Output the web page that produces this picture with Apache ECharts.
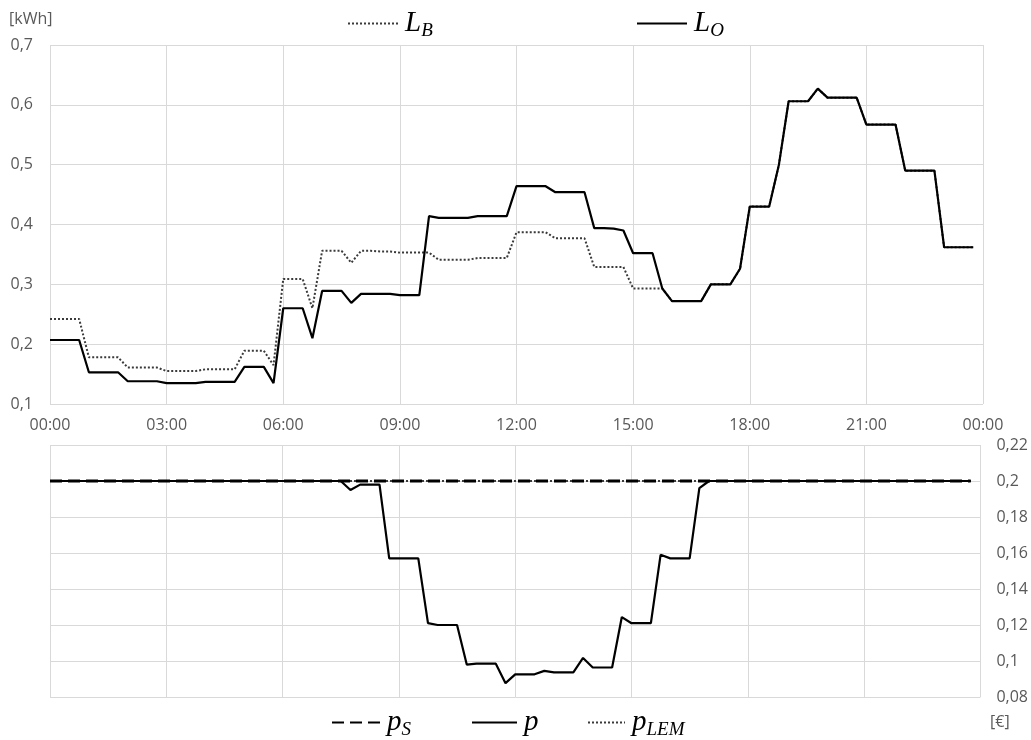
<!DOCTYPE html>
<html>
<head>
<meta charset="utf-8">
<script src="https://cdn.jsdelivr.net/npm/echarts@6/dist/echarts.min.js"></script>
<style>
html,body{margin:0;padding:0;background:#fff;}
#chart{width:1031px;height:740px;}
</style>
</head>
<body>
<div id="chart"></div>
<script>
// Time categories (15-minute steps, plus the closing 24:00 tick shown as 00:00)
const categories = [
"00:00","00:15","00:30","00:45","01:00","01:15","01:30","01:45",
"02:00","02:15","02:30","02:45","03:00","03:15","03:30","03:45",
"04:00","04:15","04:30","04:45","05:00","05:15","05:30","05:45",
"06:00","06:15","06:30","06:45","07:00","07:15","07:30","07:45",
"08:00","08:15","08:30","08:45","09:00","09:15","09:30","09:45",
"10:00","10:15","10:30","10:45","11:00","11:15","11:30","11:45",
"12:00","12:15","12:30","12:45","13:00","13:15","13:30","13:45",
"14:00","14:15","14:30","14:45","15:00","15:15","15:30","15:45",
"16:00","16:15","16:30","16:45","17:00","17:15","17:30","17:45",
"18:00","18:15","18:30","18:45","19:00","19:15","19:30","19:45",
"20:00","20:15","20:30","20:45","21:00","21:15","21:30","21:45",
"22:00","22:15","22:30","22:45","23:00","23:15","23:30","23:45",
"00:00"
];

// Load [kWh]
const L_B = [
0.242,0.242,0.242,0.242, 0.178,0.178,0.178,0.178,
0.161,0.161,0.161,0.161, 0.155,0.155,0.155,0.155,
0.158,0.158,0.158,0.158, 0.189,0.189,0.189,0.165,
0.309,0.309,0.309,0.260, 0.356,0.356,0.356,0.336,
0.356,0.356,0.355,0.355, 0.353,0.353,0.353,0.353,
0.341,0.341,0.341,0.341, 0.344,0.344,0.344,0.344,
0.387,0.387,0.387,0.387, 0.377,0.377,0.377,0.377,
0.329,0.329,0.329,0.329, 0.293,0.293,0.293,0.293,
0.272,0.272,0.272,0.272, 0.300,0.300,0.300,0.326,
0.430,0.430,0.430,0.500, 0.606,0.606,0.606,0.627,
0.612,0.612,0.612,0.612, 0.567,0.567,0.567,0.567,
0.490,0.490,0.490,0.490, 0.362,0.362,0.362,0.362
];
const L_O = [
0.207,0.207,0.207,0.207, 0.153,0.153,0.153,0.153,
0.138,0.138,0.138,0.138, 0.135,0.135,0.135,0.135,
0.137,0.137,0.137,0.137, 0.162,0.162,0.162,0.135,
0.260,0.260,0.260,0.210, 0.289,0.289,0.289,0.269,
0.284,0.284,0.284,0.284, 0.282,0.282,0.282,0.414,
0.411,0.411,0.411,0.411, 0.414,0.414,0.414,0.414,
0.464,0.464,0.464,0.464, 0.454,0.454,0.454,0.454,
0.394,0.394,0.393,0.390, 0.352,0.352,0.352,0.293,
0.272,0.272,0.272,0.272, 0.300,0.300,0.300,0.326,
0.430,0.430,0.430,0.500, 0.606,0.606,0.606,0.627,
0.612,0.612,0.612,0.612, 0.567,0.567,0.567,0.567,
0.490,0.490,0.490,0.490, 0.362,0.362,0.362,0.362
];

// Prices [€]
const p_S = [
0.2,0.2,0.2,0.2, 0.2,0.2,0.2,0.2, 0.2,0.2,0.2,0.2, 0.2,0.2,0.2,0.2,
0.2,0.2,0.2,0.2, 0.2,0.2,0.2,0.2, 0.2,0.2,0.2,0.2, 0.2,0.2,0.2,0.2,
0.2,0.2,0.2,0.2, 0.2,0.2,0.2,0.2, 0.2,0.2,0.2,0.2, 0.2,0.2,0.2,0.2,
0.2,0.2,0.2,0.2, 0.2,0.2,0.2,0.2, 0.2,0.2,0.2,0.2, 0.2,0.2,0.2,0.2,
0.2,0.2,0.2,0.2, 0.2,0.2,0.2,0.2, 0.2,0.2,0.2,0.2, 0.2,0.2,0.2,0.2,
0.2,0.2,0.2,0.2, 0.2,0.2,0.2,0.2, 0.2,0.2,0.2,0.2, 0.2,0.2,0.2,0.2
];
const p = [
0.2,0.2,0.2,0.2, 0.2,0.2,0.2,0.2, 0.2,0.2,0.2,0.2, 0.2,0.2,0.2,0.2,
0.2,0.2,0.2,0.2, 0.2,0.2,0.2,0.2, 0.2,0.2,0.2,0.2, 0.2,0.2,0.2,0.195,
0.198,0.198,0.198,0.157, 0.157,0.157,0.157,0.121,
0.120,0.120,0.120,0.098, 0.0985,0.0985,0.0985,0.0877,
0.0926,0.0926,0.0926,0.0945, 0.0937,0.0937,0.0937,0.1017,
0.0964,0.0964,0.0964,0.1244, 0.121,0.121,0.121,0.159,
0.157,0.157,0.157,0.196, 0.2,0.2,0.2,0.2,
0.2,0.2,0.2,0.2, 0.2,0.2,0.2,0.2, 0.2,0.2,0.2,0.2,
0.2,0.2,0.2,0.2, 0.2,0.2,0.2,0.2, 0.2,0.2,0.2,0.2
];
const p_LEM = [
0.2,0.2,0.2,0.2, 0.2,0.2,0.2,0.2, 0.2,0.2,0.2,0.2, 0.2,0.2,0.2,0.2,
0.2,0.2,0.2,0.2, 0.2,0.2,0.2,0.2, 0.2,0.2,0.2,0.2, 0.2,0.2,0.2,0.2,
0.2,0.2,0.2,0.2, 0.2,0.2,0.2,0.2, 0.2,0.2,0.2,0.2, 0.2,0.2,0.2,0.2,
0.2,0.2,0.2,0.2, 0.2,0.2,0.2,0.2, 0.2,0.2,0.2,0.2, 0.2,0.2,0.2,0.2,
0.2,0.2,0.2,0.2, 0.2,0.2,0.2,0.2, 0.2,0.2,0.2,0.2, 0.2,0.2,0.2,0.2,
0.2,0.2,0.2,0.2, 0.2,0.2,0.2,0.2, 0.2,0.2,0.2,0.2, 0.2,0.2,0.2,0.2
];

const GRID = '#d9d9d9';
const LABEL = '#595959';
const FONT = '"Open Sans", "Noto Sans", sans-serif';
const MATH = '"Liberation Serif", "DejaVu Serif", serif';

function commaFmt(v){ return String(Math.round(v*100)/100).replace('.', ','); }

const legendNames = {
  LB: '{m|L}{s|B}', LO: '{m|L}{s|O}',
  pS: '{m|p}{s|S}', p: '{m|p}', pLEM: '{m|p}{s|LEM}'
};
const rich = {
  m: {fontFamily: MATH, fontStyle: 'italic', fontSize: 29, lineHeight: 34, color: '#000'},
  s: {fontFamily: MATH, fontStyle: 'italic', fontSize: 19, lineHeight: 14, verticalAlign: 'bottom', color: '#000'}
};
function mkLegend(name, left, top, w){
  return {
    data: [name], left: left, top: top, padding: 0,
    itemWidth: w, itemHeight: 14, itemGap: 0,
    selectedMode: false,
    itemStyle: {opacity: 0, color: 'rgba(0,0,0,0)', borderWidth: 0},
    formatter: function(n){ return legendNames[n]; },
    textStyle: {rich: rich, padding: [0,0,0,2]}
  };
}

const chart = echarts.init(document.getElementById('chart'), null, {renderer: 'canvas'});
chart.setOption({
  animation: false,
  backgroundColor: '#fff',
  grid: [
    {left: 50, right: 48, top: 45, height: 359},
    {left: 50, right: 48, top: 445, height: 252}
  ],
  legend: [
    mkLegend('LB', 347, 9, 50),
    mkLegend('LO', 636, 9, 50),
    mkLegend('pS', 331, 708, 48),
    mkLegend('p', 471, 708, 45),
    mkLegend('pLEM', 587, 708, 37)
  ],
  xAxis: [
    {
      type: 'category', gridIndex: 0, data: categories, boundaryGap: false,
      axisLine: {show: false}, axisTick: {show: false},
      axisLabel: {interval: 11, color: LABEL, fontFamily: FONT, fontSize: 16, margin: 13},
      splitLine: {show: true, interval: 11, lineStyle: {color: GRID, width: 1}}
    },
    {
      type: 'category', gridIndex: 1, data: categories, boundaryGap: false,
      axisLine: {show: false}, axisTick: {show: false},
      axisLabel: {show: false},
      splitLine: {show: true, interval: 11, lineStyle: {color: GRID, width: 1}}
    }
  ],
  yAxis: [
    {
      type: 'value', gridIndex: 0, min: 0.1, max: 0.7, interval: 0.1,
      axisLine: {show: false}, axisTick: {show: false},
      axisLabel: {color: LABEL, fontFamily: FONT, fontSize: 16, margin: 17, formatter: commaFmt},
      splitLine: {lineStyle: {color: GRID, width: 1}}
    },
    {
      type: 'value', gridIndex: 1, position: 'right', min: 0.08, max: 0.22, interval: 0.02,
      axisLine: {show: false}, axisTick: {show: false},
      axisLabel: {color: LABEL, fontFamily: FONT, fontSize: 16, margin: 16, formatter: commaFmt},
      splitLine: {lineStyle: {color: GRID, width: 1}}
    }
  ],
  series: [
    {name: 'LB', type: 'line', xAxisIndex: 0, yAxisIndex: 0, data: L_B, symbol: 'none',
     lineStyle: {color: '#3a3a3a', width: 2, type: [2, 2]}, itemStyle: {color: '#3a3a3a'}},
    {name: 'LO', type: 'line', xAxisIndex: 0, yAxisIndex: 0, data: L_O, symbol: 'none',
     lineStyle: {color: '#000', width: 2.2}, itemStyle: {color: '#000'}},
    {name: 'pLEM', type: 'line', xAxisIndex: 1, yAxisIndex: 1, data: p_LEM, symbol: 'none',
     lineStyle: {color: '#3a3a3a', width: 2, type: [2, 2]}, itemStyle: {color: '#3a3a3a'}},
    {name: 'p', type: 'line', xAxisIndex: 1, yAxisIndex: 1, data: p, symbol: 'none',
     lineStyle: {color: '#000', width: 2.2}, itemStyle: {color: '#000'}},
    {name: 'pS', type: 'line', xAxisIndex: 1, yAxisIndex: 1, data: p_S, symbol: 'none',
     lineStyle: {color: '#000', width: 3, type: [12, 6]}, itemStyle: {color: '#000'}}
  ],
  graphic: [
    {type: 'text', left: 9, top: 11, style: {text: '[kWh]', fill: LABEL, font: '16px ' + FONT}},
    {type: 'text', left: 990, top: 714, style: {text: '[€]', fill: LABEL, font: '16px ' + FONT}}
  ]
});
</script>
</body>
</html>
